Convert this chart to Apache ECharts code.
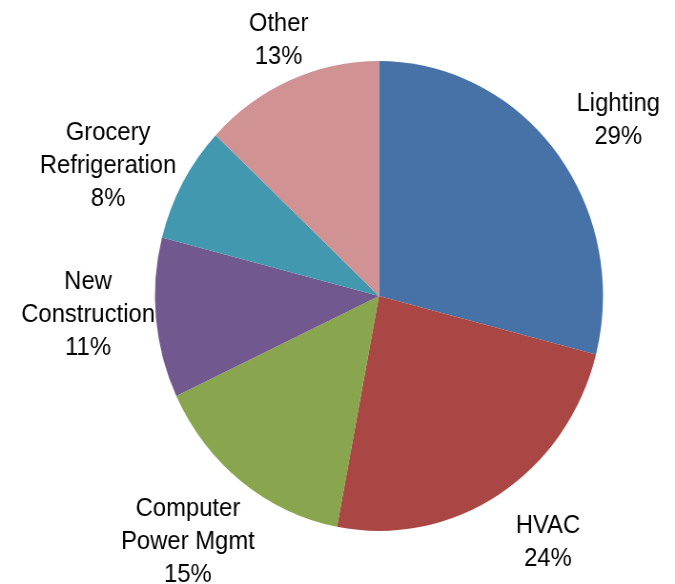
<!DOCTYPE html>
<html>
<head>
<meta charset="utf-8">
<script src="https://cdn.jsdelivr.net/npm/echarts@6/dist/echarts.min.js"></script>
<style>
  html, body { margin: 0; padding: 0; background: #fff; overflow: hidden; }
  #wrap { width: 675px; height: 584px; overflow: hidden; }
  #chart { width: 708px; height: 584px; transform: scaleX(0.9534); transform-origin: 0 0; }
</style>
</head>
<body>
<div id="wrap"><div id="chart"></div></div>
<script>
// Data
const categories = ['Lighting', 'HVAC', 'Computer\nPower Mgmt', 'New\nConstruction', 'Grocery\nRefrigeration', 'Other'];
const values = [29, 24, 15, 11, 8, 13];
const colors = ['#4672A7', '#AA4744', '#89A54E', '#71588F', '#4298AF', '#D09292'];

// Layout (label fine-tuning relative to the computed outside position)
const labelNudge = [[18, 5], [24, 5], [-3, -8], [8, -10], [2, 27], [7, 4]];

const CX = 397.5, CY = 296, R = 235, GAP = 5;
const total = values.reduce((a, b) => a + b, 0);
const cum = [];
values.reduce((acc, v, i) => { cum[i] = acc; return acc + v; }, 0);

const chart = echarts.init(document.getElementById('chart'), null, { renderer: 'canvas' });
chart.setOption({
  animation: false,
  backgroundColor: '#ffffff',
  series: [{
    type: 'pie',
    center: [CX, CY],
    radius: [0, R],
    startAngle: 90,
    clockwise: true,
    avoidLabelOverlap: false,
    data: categories.map((c, i) => ({ name: c, value: values[i], itemStyle: { color: colors[i] } })),
    label: {
      show: true,
      position: 'outside',
      formatter: '{b}\n{c}%',
      fontFamily: '"Liberation Sans", Arial, sans-serif',
      fontSize: 25,
      lineHeight: 33,
      color: '#000',
      align: 'center'
    },
    labelLine: { show: false },
    labelLayout: function (p) {
      const i = p.dataIndex;
      const mid = (cum[i] + values[i] / 2) / total * Math.PI * 2;
      const dx = Math.sin(mid), dy = -Math.cos(mid);
      const w = p.labelRect.width, h = p.labelRect.height;
      const ext = Math.abs(dx) * w / 2 + Math.abs(dy) * h / 2;
      const d = R + ext + GAP;
      return {
        x: CX + dx * d + labelNudge[i][0],
        y: CY + dy * d + labelNudge[i][1],
        align: 'center', verticalAlign: 'middle'
      };
    },
    emphasis: { disabled: true }
  }]
});
</script>
</body>
</html>
